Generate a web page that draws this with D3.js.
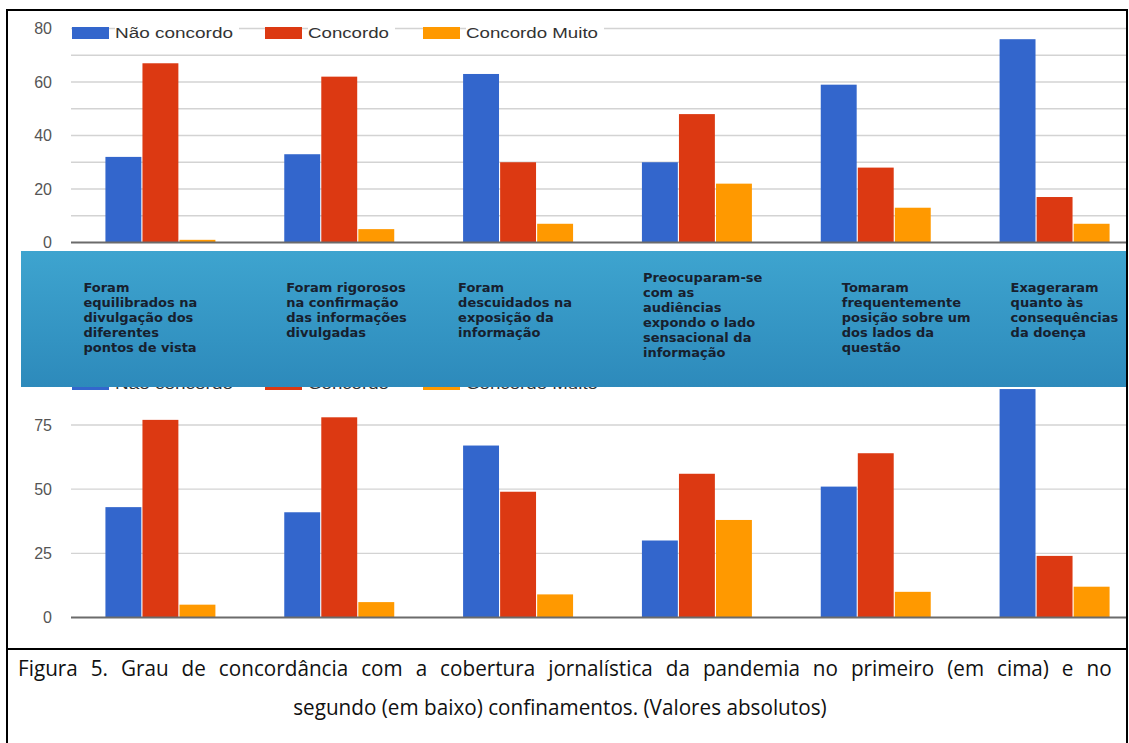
<!DOCTYPE html>
<html>
<head>
<meta charset="utf-8">
<script src="https://cdn.jsdelivr.net/npm/d3@7"></script>
<style>
body { margin: 0; background: #fff; }
svg { display: block; }
</style>
</head>
<body>
<svg id="chart" width="1129" height="743"></svg>
<script>
// categories (statements)
var categories = ["equilibrados", "rigorosos", "descuidados", "sensacional", "posicao", "exageraram"];
var bandLabels = [
  ["Foram", "equilibrados na", "divulgação dos", "diferentes", "pontos de vista"],
  ["Foram rigorosos", "na confirmação", "das informações", "divulgadas"],
  ["Foram", "descuidados na", "exposição da", "informação"],
  ["Preocuparam-se", "com as", "audiências", "expondo o lado", "sensacional da", "informação"],
  ["Tomaram", "frequentemente", "posição sobre um", "dos lados da", "questão"],
  ["Exageraram", "quanto às", "consequências", "da doença"]
];
var seriesNames = ["Não concordo", "Concordo", "Concordo Muito"];

// primeiro confinamento (em cima)
var naoConcordo1 = [32, 33, 63, 30, 59, 76];
var concordo1 = [67, 62, 30, 48, 28, 17];
var concordoMuito1 = [1, 5, 7, 22, 13, 7];
// segundo confinamento (em baixo)
var naoConcordo2 = [43, 41, 67, 30, 51, 89];
var concordo2 = [77, 78, 49, 56, 64, 24];
var concordoMuito2 = [5, 6, 9, 38, 10, 12];

var ticks1 = [0, 20, 40, 60, 80];
var grid1 = [10, 20, 30, 40, 50, 60, 70, 80];
var ticks2 = [0, 25, 50, 75];
var grid2 = [25, 50, 75];

var caption = [
  "Figura 5. Grau de concordância com a cobertura jornalística da pandemia no primeiro (em cima) e no",
  "segundo (em baixo) confinamentos. (Valores absolutos)"
];

var colors = ["#3366cc", "#dc3912", "#ff9900"];
var svg = d3.select("#chart");

var defs = svg.append("defs");
defs.append("clipPath").attr("id", "plotclip")
  .append("rect").attr("x", 0).attr("y", 0).attr("width", 1127).attr("height", 743);
var grad = defs.append("linearGradient").attr("id", "bandgrad")
  .attr("x1", 0).attr("y1", 0).attr("x2", 0).attr("y2", 1);
grad.append("stop").attr("offset", "0%").attr("stop-color", "#3ea4cf");
grad.append("stop").attr("offset", "100%").attr("stop-color", "#2d8abb");

var x = d3.scaleBand().domain(categories).range([71, 1144])
  .paddingInner(0.385).paddingOuter(0.1925);
var xs = d3.scaleBand().domain(seriesNames).range([0, x.bandwidth()]).paddingInner(0.03);

function panel(values, y, ticks, grid, legendTop) {
  var g = svg.append("g").attr("clip-path", "url(#plotclip)");

  // gridlines
  g.selectAll("line.grid").data(grid).enter().append("line")
    .attr("class", "grid")
    .attr("x1", 71).attr("x2", 1127)
    .attr("y1", function(d) { return y(d); }).attr("y2", function(d) { return y(d); })
    .attr("stroke", "#d3d3d3").attr("stroke-width", 1.3);

  // tick labels
  svg.selectAll(null).data(ticks).enter().append("text")
    .attr("x", 52).attr("y", function(d) { return y(d); })
    .attr("dy", "0.36em")
    .attr("text-anchor", "end")
    .attr("font-family", "Liberation Sans, Arial, sans-serif")
    .attr("font-size", 16)
    .attr("fill", "#555")
    .text(function(d) { return d; });

  // bars
  var groups = g.selectAll("g.cat").data(categories).enter().append("g")
    .attr("transform", function(c) { return "translate(" + x(c) + ",0)"; });
  groups.selectAll("rect").data(function(c, i) {
      return seriesNames.map(function(s, j) { return {s: s, j: j, v: values[j][i]}; });
    }).enter().append("rect")
    .attr("x", function(d) { return xs(d.s); })
    .attr("width", xs.bandwidth())
    .attr("y", function(d) { return y(d.v); })
    .attr("height", function(d) { return y(0) - y(d.v); })
    .attr("fill", function(d) { return colors[d.j]; });

  // baseline
  g.append("line").attr("x1", 71).attr("x2", 1127)
    .attr("y1", y(0)).attr("y2", y(0))
    .attr("stroke", "#6b6b6b").attr("stroke-width", 2);

  // legend
  var legX = [72, 265, 423];
  var legW = [118, 81, 132];
  var leg = svg.selectAll(null).data(seriesNames).enter().append("g")
    .attr("transform", function(d, i) { return "translate(" + legX[i] + "," + legendTop + ")"; });
  leg.append("rect").attr("x", 43).attr("y", -1).attr("height", 14)
    .attr("width", function(d, i) { return legW[i] + 6; }).attr("fill", "#fff");
  leg.append("rect").attr("width", 37).attr("height", 12)
    .attr("fill", function(d, i) { return colors[i]; });
  leg.append("text").attr("x", 43).attr("y", 11)
    .attr("font-family", "Liberation Sans, Arial, sans-serif")
    .attr("font-size", 15.5).attr("fill", "#333")
    .attr("textLength", function(d, i) { return legW[i]; })
    .attr("lengthAdjust", "spacingAndGlyphs")
    .text(function(d) { return d; });
}

var y1 = d3.scaleLinear().domain([0, 80]).range([242.5, 28.5]);
var y2 = d3.scaleLinear().domain([0, 75]).range([617.5, 425]);

panel([naoConcordo1, concordo1, concordoMuito1], y1, ticks1, grid1, 27);
panel([naoConcordo2, concordo2, concordoMuito2], y2, ticks2, grid2, 378);

// blue banner with statements, laid over the second chart's legend
svg.append("rect").attr("x", 21).attr("y", 251).attr("width", 1106).attr("height", 136)
  .attr("fill", "url(#bandgrad)");

var labelDx = [-22, 2, -5, 1, 21, 11];
var labelTop = [292, 292, 292, 282, 292, 292];
var lab = svg.selectAll("text.band").data(bandLabels).enter().append("text")
  .attr("class", "band")
  .attr("font-family", "DejaVu Sans, sans-serif")
  .attr("font-weight", "bold")
  .attr("font-size", 13)
  .attr("fill", "#17202e");
lab.selectAll("tspan").data(function(d, i) {
    return d.map(function(t) { return {t: t, i: i}; });
  }).enter().append("tspan")
  .attr("x", function(d) { return x(categories[d.i]) + labelDx[d.i]; })
  .attr("y", function(d, k) { return labelTop[d.i] + k * 15; })
  .text(function(d) { return d.t; });

// caption: first line justified, second line centred
var capY = [676, 715];
var sx = 0.92;
var capG = svg.selectAll("g.cap").data(caption).enter().append("g")
  .attr("class", "cap");
var capT = capG.append("text")
  .attr("font-family", "Open Sans, Liberation Sans, sans-serif")
  .attr("font-size", 22.5)
  .attr("fill", "#111")
  .text(function(d) { return d; });
capT.each(function(d, i) {
  var t = d3.select(this);
  var L = this.getComputedTextLength();
  if (i === 0) {
    var n = d.split(" ").length - 1;
    t.attr("word-spacing", Math.max(0, (1094 / sx - L) / n));
    d3.select(this.parentNode).attr("transform", "translate(18," + capY[0] + ") scale(" + sx + ",1)");
  } else {
    d3.select(this.parentNode).attr("transform", "translate(" + (560 - L * sx / 2) + "," + capY[1] + ") scale(" + sx + ",1)");
  }
});

// frame
var frame = svg.append("g").attr("stroke", "#000").attr("stroke-width", 2);
frame.append("line").attr("x1", 6).attr("x2", 1128).attr("y1", 10).attr("y2", 10);
frame.append("line").attr("x1", 7).attr("x2", 7).attr("y1", 9).attr("y2", 743);
frame.append("line").attr("x1", 1127).attr("x2", 1127).attr("y1", 9).attr("y2", 743);
frame.append("line").attr("x1", 6).attr("x2", 1128).attr("y1", 649).attr("y2", 649);
</script>
</body>
</html>
